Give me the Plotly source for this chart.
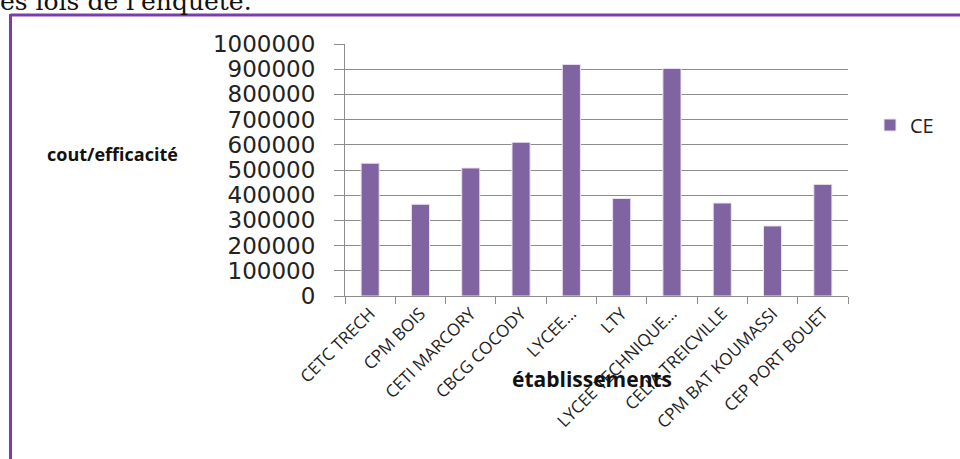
import plotly.graph_objects as go

# Établissements et ratio coût/efficacité (CE)
etablissements = [
    "CETC TRECH", "CPM BOIS", "CETI MARCORY", "CBCG COCODY", "LYCEE…",
    "LTY", "LYCEE TECHNIQUE…", "CELIA TREICVILLE", "CPM BAT KOUMASSI", "CEP PORT BOUET",
]
ce_values = [527000, 364000, 508000, 610000, 919000, 387000, 903000, 369000, 278000, 443000]
y_ticks = list(range(0, 1000001, 100000))

W, H = 960, 459
L, R, T, B = 345, 848, 44, 296  # plot area in pixels


def px_x(px):
    return (px - L) / (R - L)


def px_y(py):
    return (B - py) / (B - T)


PURPLE = "#8064A2"
GRID = "#8C8C8C"
FRAME = "#7A3DB0"

fig = go.Figure()
fig.add_trace(go.Bar(
    x=etablissements,
    y=ce_values,
    name="CE",
    marker=dict(color=PURPLE, line=dict(color="#EAE4F0", width=1)),
))

fig.update_layout(
    width=W, height=H,
    margin=dict(l=L, r=W - R, t=T, b=H - B),
    paper_bgcolor="white",
    plot_bgcolor="white",
    bargap=0.64,
    showlegend=True,
    legend=dict(
        x=px_x(870), y=px_y(125), xanchor="left", yanchor="middle",
        itemwidth=30,
        font=dict(family="Open Sans", size=20, color="#222"),
        bgcolor="rgba(0,0,0,0)",
    ),
    xaxis=dict(
        type="category",
        tickangle=-45,
        tickson="boundaries",
        ticks="outside", ticklen=7, tickcolor=GRID,
        showline=True, linecolor=GRID, linewidth=1,
        showgrid=False,
        tickfont=dict(family="Open Sans", size=17, color="#222"),
    ),
    yaxis=dict(
        range=[0, 1000000],
        tickvals=y_ticks,
        tickformat="d",
        ticks="outside", ticklen=10, tickcolor=GRID,
        ticklabelstandoff=14,
        showline=True, linecolor=GRID, linewidth=1,
        showgrid=True, gridcolor=GRID, gridwidth=1,
        zeroline=False,
        tickfont=dict(family="DejaVu Sans", size=23, color="#222"),
    ),
    shapes=[
        # cadre violet du document
        dict(type="line", xref="paper", yref="paper",
             x0=px_x(10.5), x1=px_x(965), y0=px_y(15), y1=px_y(15),
             line=dict(color=FRAME, width=3)),
        dict(type="line", xref="paper", yref="paper",
             x0=px_x(10.5), x1=px_x(10.5), y0=px_y(14), y1=px_y(470),
             line=dict(color=FRAME, width=3)),
    ],
    annotations=[
        dict(text="<b>cout/efficacité</b>", xref="paper", yref="paper",
             x=px_x(112), y=px_y(154), xanchor="center", yanchor="middle",
             showarrow=False, font=dict(family="Open Sans", size=18, color="#111")),
        dict(text="<b>établissements</b>", xref="paper", yref="paper",
             x=px_x(592), y=px_y(379), xanchor="center", yanchor="middle",
             showarrow=False, font=dict(family="Open Sans", size=21, color="#111")),
        dict(text="es lois de l'enquête.", xref="paper", yref="paper",
             x=px_x(-2), y=px_y(2), xanchor="left", yanchor="middle",
             showarrow=False, font=dict(family="DejaVu Serif", size=25, color="#111")),
    ],
)

fig.write_html("out.html")
